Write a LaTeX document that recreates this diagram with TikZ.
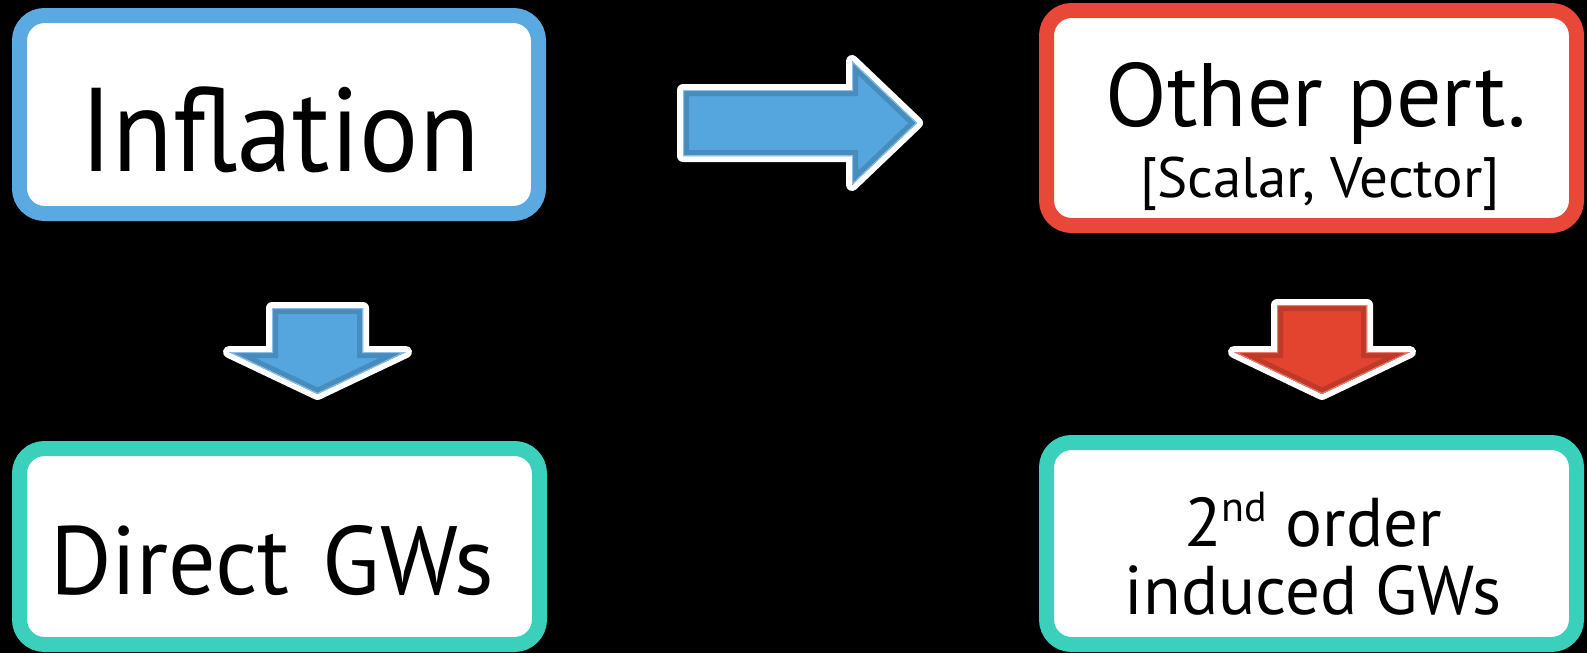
\documentclass[tikz,border=0pt]{standalone}
\usepackage{fontspec}
\setmainfont{PT Sans}
\definecolor{blueb}{RGB}{90,170,225}
\definecolor{redb}{RGB}{232,72,55}
\definecolor{tealb}{RGB}{58,208,188}
\definecolor{arrblue}{RGB}{85,165,222}
\definecolor{arrred}{RGB}{226,68,48}
\tikzset{
  box/.style={draw, line width=15pt, rounded corners=25pt, fill=white, inner sep=0pt},
  lbl/.style={anchor=base, inner sep=0pt, text=black},
  rarrow/.style={insert path={(683,90) -- (852,90) -- (852,61) -- (917,123) -- (852,185) -- (852,156) -- (683,156) -- cycle}},
  darrowb/.style={insert path={(272,308) -- (363,308) -- (363,352) -- (406,352) -- (317.5,394) -- (229,352) -- (272,352) -- cycle}},
  darrowr/.style={insert path={(1277,305) -- (1367,305) -- (1367,352) -- (1410,352) -- (1322,394) -- (1234,352) -- (1277,352) -- cycle}},
  outline/.style={draw=white, line width=12pt, line join=round},
}
\begin{document}
\begin{tikzpicture}[x=1pt,y=-1pt]
\useasboundingbox (0,0) rectangle (1587,653);
\fill[black] (0,0) rectangle (1587,653);

% boxes
\node[box, draw=blueb, minimum width=519pt, minimum height=198pt] (infl) at (279,114.5) {};
\node[box, draw=redb, minimum width=530pt, minimum height=215pt] (other) at (1311.5,118) {};
\node[box, draw=tealb, minimum width=520pt, minimum height=196pt] (direct) at (279.5,546.5) {};
\node[box, draw=tealb, minimum width=530pt, minimum height=202pt] (induced) at (1311.5,543.5) {};

% texts
\node[lbl, font=\fontsize{119}{119}\selectfont\addfontfeature{FakeStretch=0.93}] (tinfl) at (280,171) {Inflation};
\node[lbl, font=\fontsize{90}{90}\selectfont] (tother) at (1316,126) {Other pert.};
\node[lbl, font=\fontsize{57}{57}\selectfont] (tsv) at (1320,197) {[Scalar, Vector]};
\node[lbl, font=\fontsize{97}{97}\selectfont\addfontfeature{FakeStretch=0.97}] (tdirect) at (272,594) {Direct\hspace{0.08em} GWs};
\node[lbl, font=\fontsize{69}{69}\selectfont] (tsecond) at (1313,546) {2\raisebox{0.36em}{\fontsize{42}{42}\selectfont nd} order};
\node[lbl, font=\fontsize{69}{69}\selectfont] (tinduced) at (1313,614) {induced GWs};

% block arrows
\path[rarrow, outline];
\path[rarrow, fill=arrblue];
\begin{scope}
  \path[rarrow, clip];
  \path[rarrow, draw=arrblue!85!black, line width=12pt, line join=miter];
  \path[rarrow, draw=arrblue!70!white, line width=2pt];
\end{scope}

\path[darrowb, outline];
\path[darrowb, fill=arrblue];
\begin{scope}
  \path[darrowb, clip];
  \path[darrowb, draw=arrblue!85!black, line width=12pt, line join=miter];
  \path[darrowb, draw=arrblue!70!white, line width=2pt];
\end{scope}

\path[darrowr, outline];
\path[darrowr, fill=arrred];
\begin{scope}
  \path[darrowr, clip];
  \path[darrowr, draw=arrred!85!black, line width=12pt, line join=miter];
  \path[darrowr, draw=arrred!70!white, line width=2pt];
\end{scope}
\end{tikzpicture}
\end{document}
